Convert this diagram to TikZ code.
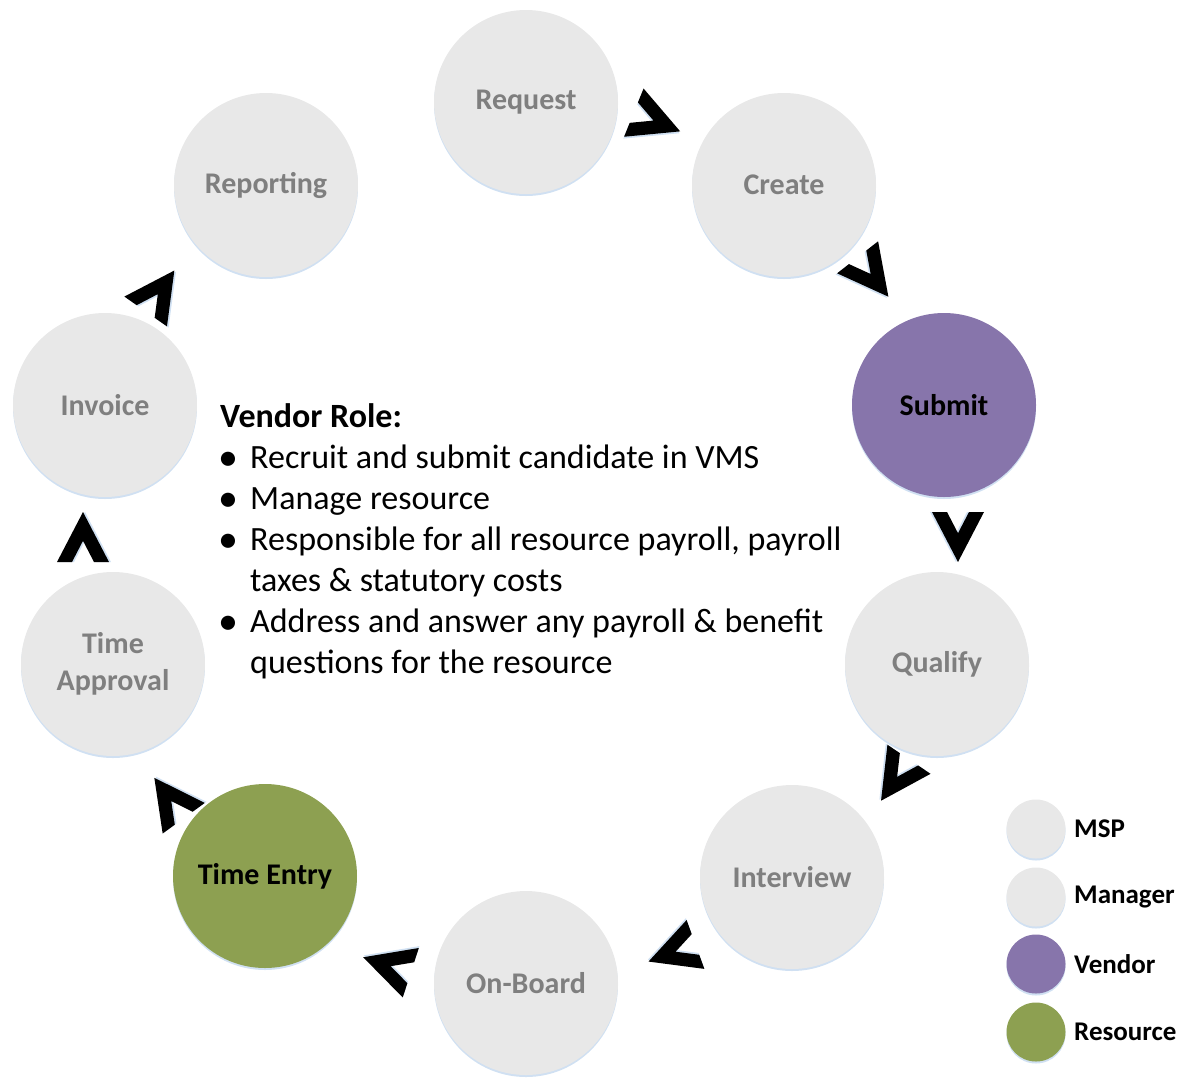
\documentclass[tikz,border=0pt]{standalone}
\usepackage{fontspec}
\setmainfont{Carlito}
\usetikzlibrary{shadows}
\definecolor{stagegray}{RGB}{232,232,232}
\definecolor{labelgray}{RGB}{127,127,127}
\definecolor{vendorpurple}{RGB}{135,117,171}
\definecolor{resourcegreen}{RGB}{141,160,81}
\definecolor{glowblue}{RGB}{208,224,242}
\begin{document}
\begin{tikzpicture}[x=1pt,y=1pt,
  glow/.style={drop shadow={shadow xshift=0pt, shadow yshift=-2pt, fill=glowblue, opacity=1}},
  stage/.style={circle, minimum size=184pt, inner sep=0pt, fill=stagegray, text=labelgray,
    font=\fontsize{30}{37}\selectfont\bfseries, align=center, glow},
  vendorstage/.style={stage, fill=vendorpurple, text=black},
  resourcestage/.style={stage, fill=resourcegreen, text=black},
  roletext/.style={anchor=base west, inner sep=0pt, font=\fontsize{34}{41}\selectfont},
  rolebullet/.style={anchor=base, inner sep=0pt, font=\fontsize{40}{41}\selectfont},
  legenddot/.style={circle, minimum size=59pt, inner sep=0pt, glow},
  legendtext/.style={anchor=west, inner sep=0pt, font=\fontsize{27}{32}\selectfont\bfseries},
  chev/.pic={
    \fill[glowblue] (-25,24) -- (25,-2) -- (-25,-28) -- (-25,-13) -- (-3.8,-2) -- (-25,9) -- cycle;
    \fill[black] (-25,26) -- (25,0) -- (-25,-26) -- (-25,-11) -- (-3.8,0) -- (-25,11) -- cycle;
  }
]
\useasboundingbox (0,0) rectangle (1180,-1077);

% stages
\node[stage] (request) at (526,-102) {Request};
\node[stage] (create) at (784,-185) {Create};
\node[vendorstage] (submit) at (944,-405) {Submit};
\node[stage] (qualify) at (937,-664) {Qualify};
\node[stage] (interview) at (792,-877) {Interview};
\node[stage] (onboard) at (526,-983) {On-Board};
\node[resourcestage] (timeentry) at (265,-876) {Time Entry};
\node[stage] (timeapproval) at (113,-664) {Time\\Approval};
\node[stage] (invoice) at (105,-405) {Invoice};
\node[stage] (reporting) at (266,-185) {Reporting};

% chevrons
\pic[rotate=-22] (c1) at (657,-122) {chev};
\pic[rotate=-52] (c2) at (873,-277) {chev};
\pic[rotate=-90] (c3) at (958,-537) {chev};
\pic[rotate=-124] (c4) at (895,-780) {chev};
\pic[rotate=-160] (c5) at (672,-953) {chev};
\pic[rotate=162] (c6) at (387,-965) {chev};
\pic[rotate=126] (c7) at (169,-798) {chev};
\pic[rotate=90] (c8) at (83,-537) {chev};
\pic[rotate=55] (c9) at (160,-291) {chev};

% vendor role text
\node[roletext, font=\fontsize{34}{41}\selectfont\bfseries] (role0) at (220,-427) {Vendor Role:};
\node[rolebullet] (b1) at (228,-470) {•};
\node[roletext] (role1) at (250,-468) {Recruit and submit candidate in VMS};
\node[rolebullet] (b2) at (228,-511) {•};
\node[roletext] (role2) at (250,-509) {Manage resource};
\node[rolebullet] (b3) at (228,-552) {•};
\node[roletext] (role3) at (250,-550) {Responsible for all resource payroll, payroll};
\node[roletext] (role4) at (250,-591) {taxes \& statutory costs};
\node[rolebullet] (b4) at (228,-634) {•};
\node[roletext] (role5) at (250,-632) {Address and answer any payroll \& benefit};
\node[roletext] (role6) at (250,-673) {questions for the resource};

% legend
\node[legenddot, fill=stagegray] (lmsp) at (1036,-829) {};
\node[legenddot, fill=stagegray] (lmgr) at (1036,-897) {};
\node[legenddot, fill=vendorpurple] (lven) at (1036,-964) {};
\node[legenddot, fill=resourcegreen] (lres) at (1036,-1032) {};
\node[legendtext] (tmsp) at (1074,-829) {MSP};
\node[legendtext] (tmgr) at (1074,-897) {Manager};
\node[legendtext] (tven) at (1074,-964) {Vendor};
\node[legendtext] (tres) at (1074,-1032) {Resource};
\end{tikzpicture}
\end{document}
